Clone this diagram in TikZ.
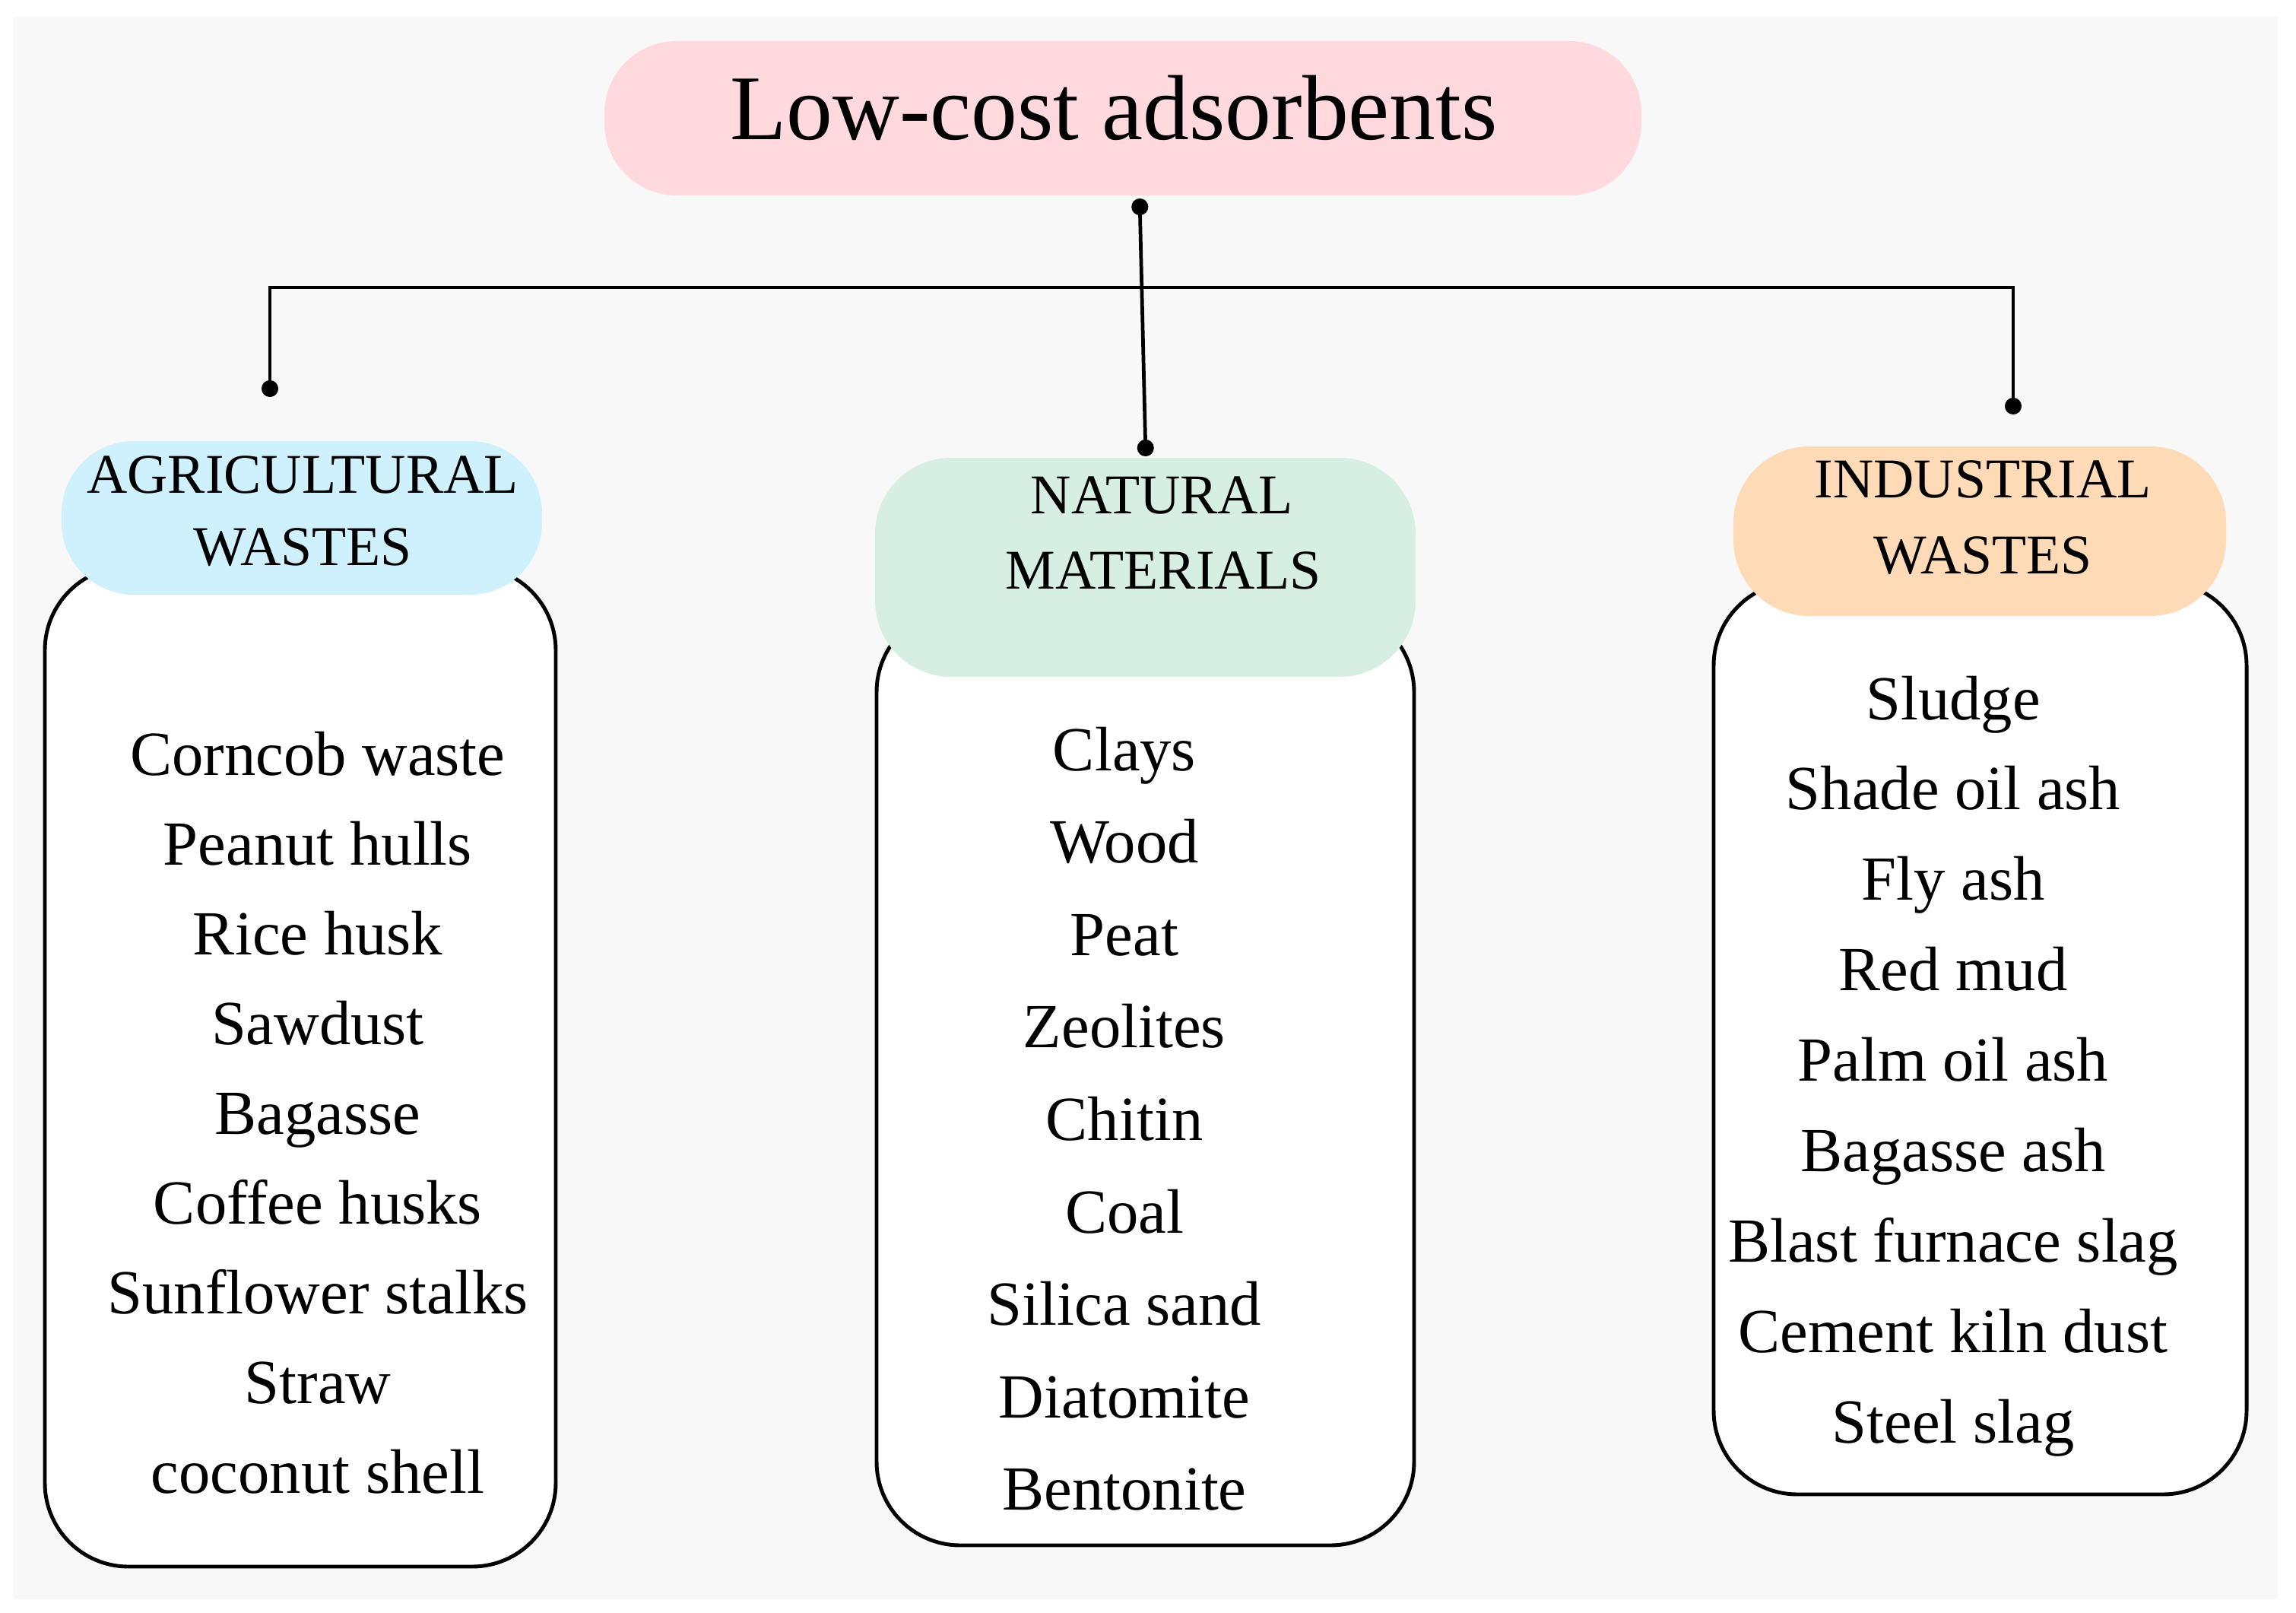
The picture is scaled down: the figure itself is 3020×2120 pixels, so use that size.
\documentclass[tikz,border=0pt]{standalone}
\usepackage{fontspec}
\setmainfont{Liberation Serif}
\usetikzlibrary{arrows.meta}
\definecolor{bggray}{HTML}{F8F8F8}
\definecolor{pinkfill}{HTML}{FFD9DE}
\definecolor{bluefill}{HTML}{CFF1FD}
\definecolor{greenfill}{HTML}{D6EFE2}
\definecolor{peachfill}{HTML}{FFDAB6}
\begin{document}
\begin{tikzpicture}[x=0.1mm,y=-0.1mm,
  pill/.style={rounded corners=9.5mm, inner sep=0pt, draw=none},
  listbox/.style={draw=black, line width=1.4pt, fill=white, rounded corners=11mm, inner sep=0pt},
  hdr/.style={font=\fontsize{21}{25}\selectfont, anchor=base, inner sep=0pt},
  item/.style={font=\fontsize{23.5}{28}\selectfont, anchor=base, inner sep=0pt},
  conn/.style={line width=1.35pt, draw=black, arrows={Circle[length=2.2mm]-Circle[length=2.2mm]}}]
\useasboundingbox (0,0) rectangle (3020,2120);
\fill[white] (0,0) rectangle (3020,2120);
\fill[bggray] (18,22) rectangle (2996,2103);

% list boxes
\node[listbox, minimum width=67.2mm, minimum height=131.5mm] (agribox) at (395,1402.5) {};
\node[listbox, minimum width=70.7mm, minimum height=123.2mm] (natbox) at (1506.5,1416) {};
\node[listbox, minimum width=70.1mm, minimum height=120mm] (indbox) at (2604.5,1365) {};

% header pills
\node[pill, fill=bluefill, minimum width=63.2mm, minimum height=20.2mm] (agri) at (397,681) {};
\node[pill, fill=greenfill, rounded corners=10mm, minimum width=71.1mm, minimum height=28.8mm] (nat) at (1506.5,746) {};
\node[pill, fill=peachfill, rounded corners=10mm, minimum width=64.8mm, minimum height=22.3mm] (ind) at (2604,698.5) {};

\node[hdr] (agri1) at (398,648) {AGRICULTURAL};
\node[hdr] (agri2) at (398,743) {WASTES};
\node[hdr] (nat1) at (1528,675) {NATURAL};
\node[hdr] (nat2) at (1530,774) {MATERIALS};
\node[hdr] (ind1) at (2608,654) {INDUSTRIAL};
\node[hdr] (ind2) at (2608,754) {WASTES};

% title
\node[pill, fill=pinkfill, minimum width=136.4mm, minimum height=20.3mm,
      font=\fontsize{34.6}{40}\selectfont, text height=24pt, text depth=8pt] (title) at (1477,155.5) {\kern-2.4mm Low-cost adsorbents};

% connectors
\coordinate (t0) at (1499,261);
\coordinate (n0) at (1507,600);
\coordinate (a0) at (355,522);
\coordinate (aj) at (355,378);
\coordinate (ij) at (2648,378);
\coordinate (i0) at (2648,545);
\draw[conn] (t0) -- (n0);
\draw[conn] (a0) -- (aj) -- (ij) -- (i0);

% items
\foreach \t [count=\i] in {Corncob waste, Peanut hulls, Rice husk, Sawdust, Bagasse, Coffee husks, Sunflower stalks, Straw, coconut shell}
  \node[item] (ag\i) at (418,{1019+(\i-1)*118.1}) {\t};
\foreach \t [count=\i] in {Clays, Wood, Peat, Zeolites, Chitin, Coal, Silica sand, Diatomite, Bentonite}
  \node[item] (na\i) at (1479,{1013+(\i-1)*121.6}) {\t};
\foreach \t [count=\i] in {Sludge, Shade oil ash, Fly ash, Red mud, Palm oil ash, Bagasse ash, Blast furnace slag, Cement kiln dust, Steel slag}
  \node[item] (in\i) at (2569,{946+(\i-1)*118.9}) {\t};
\end{tikzpicture}
\end{document}
